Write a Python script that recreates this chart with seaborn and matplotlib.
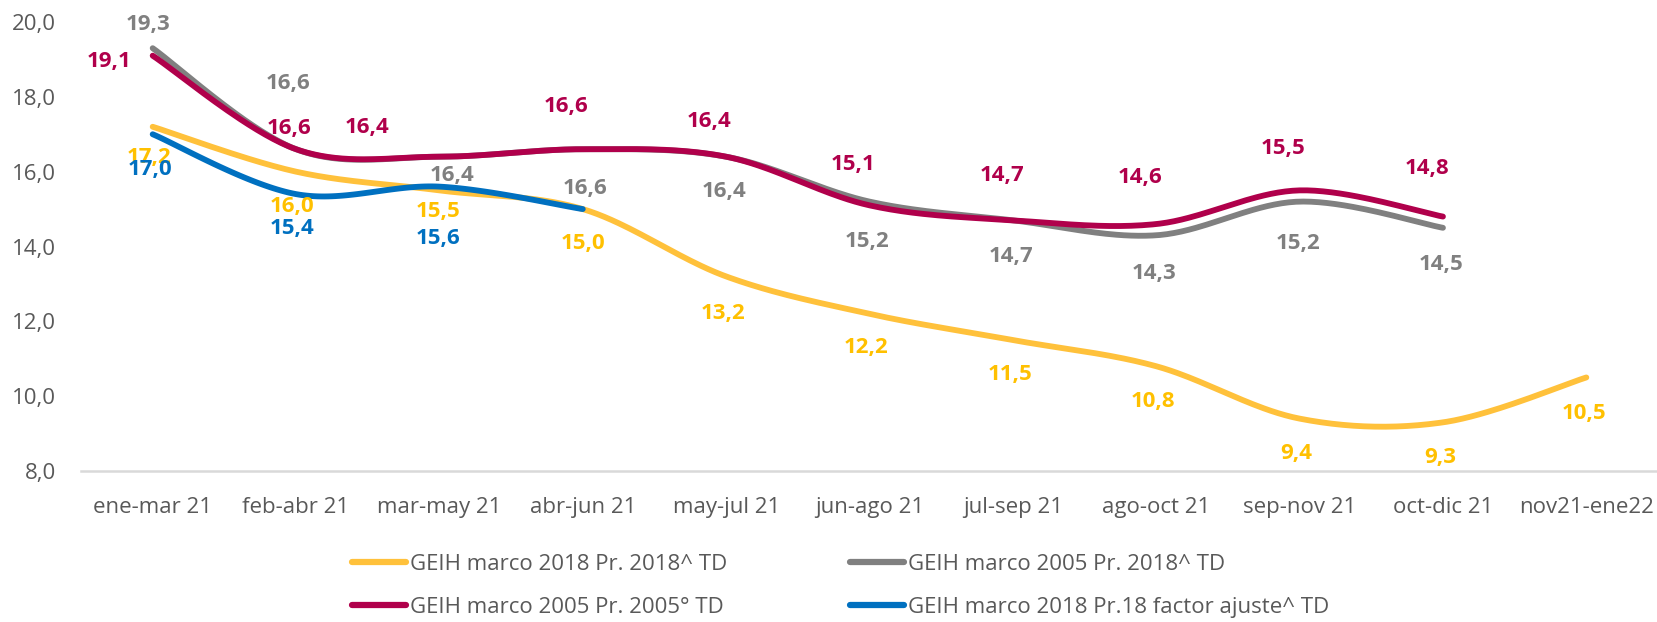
import numpy as np
import pandas as pd
import matplotlib
matplotlib.use("Agg")
import matplotlib.pyplot as plt
import seaborn as sns
from matplotlib.lines import Line2D

# ---------------- data ----------------
categories = ["ene-mar 21", "feb-abr 21", "mar-may 21", "abr-jun 21", "may-jul 21",
              "jun-ago 21", "jul-sep 21", "ago-oct 21", "sep-nov 21", "oct-dic 21",
              "nov21-ene22"]
geih18_pr18 = [17.2, 16.0, 15.5, 15.0, 13.2, 12.2, 11.5, 10.8, 9.4, 9.3, 10.5]
geih05_pr18 = [19.3, 16.6, 16.4, 16.6, 16.4, 15.2, 14.7, 14.3, 15.2, 14.5]
geih05_pr05 = [19.1, 16.6, 16.4, 16.6, 16.4, 15.1, 14.7, 14.6, 15.5, 14.8]
geih18_fact = [17.0, 15.4, 15.6, 15.0]
series_names = ["GEIH marco 2018 Pr. 2018^ TD", "GEIH marco 2005 Pr. 2018^ TD",
                "GEIH marco 2005 Pr. 2005° TD", "GEIH marco 2018 Pr.18 factor ajuste^ TD"]
yticks = [8.0, 10.0, 12.0, 14.0, 16.0, 18.0, 20.0]

# ---------------- style ----------------
line_colors = ["#FFC13B", "#808080", "#B0004B", "#0070C0"]
text_colors = ["#FFC000", "#808080", "#B0004B", "#0070C0"]
# label offsets in pixels (dx, dy up)
offsets = [
    [(-4, -31), (-4, -35), (-1, -21), (0, -34), (-3, -37), (-3, -34), (-3, -34),
     (-3, -35), (-3, -35), (-3, -35), (-2, -36)],
    [(-5, 24), (-8, 66), (13, -19), (2, -39), (-2, -35), (-2, -40), (-2, -36),
     (-2, -38), (-2, -42), (-2, -37)],
    [(-44, -6), (-7, 21), (-72, 29), (-17, 43), (-17, 35), (-16, 41), (-11, 45),
     (-16, 47), (-17, 42), (-16, 48)],
    [(-3, -35), (-4, -34), (-1, -52), (0, 0)],
]

sns.set_theme(style="white")
plt.rcParams["font.family"] = ["Open Sans", "DejaVu Sans"]

fig = plt.figure(figsize=(16.58, 6.22), dpi=100)
ax = fig.add_axes([81 / 1658, 1 - 471 / 622, 1 - 81 / 1658, (471 - 22) / 622])


def smooth(vals, n=40):
    p = np.column_stack([np.arange(len(vals), dtype=float), np.asarray(vals, float)])
    out = []
    for i in range(len(p) - 1):
        p0 = p[i - 1] if i > 0 else p[i]
        p1 = p[i]
        p2 = p[i + 1]
        p3 = p[i + 2] if i + 2 < len(p) else p[i + 1]
        c1 = p1 + (p2 - p0) / 6.0
        c2 = p2 - (p3 - p1) / 6.0
        t = np.linspace(0, 1, n, endpoint=(i == len(p) - 2))[:, None]
        b = ((1 - t) ** 3) * p1 + 3 * ((1 - t) ** 2) * t * c1 + 3 * (1 - t) * t ** 2 * c2 + t ** 3 * p2
        out.append(b)
    return np.vstack(out)


all_series = [geih18_pr18, geih05_pr18, geih05_pr05, geih18_fact]
draw_order = [0, 3, 1, 2]
for k in draw_order:
    vals = all_series[k]
    sm = smooth(vals)
    df = pd.DataFrame({"x": sm[:, 0], "y": sm[:, 1]})
    sns.lineplot(data=df, x="x", y="y", ax=ax, color=line_colors[k], linewidth=4.2,
                 sort=False, estimator=None, solid_capstyle="round",
                 clip_on=False, legend=False)

for k in [0, 1, 2, 3]:
    vals = all_series[k]
    for i, v in enumerate(vals):
        if k == 3 and i == 3:
            continue  # blue 15,0 lies under the yellow 15,0 label in the reference
        dx, dy = offsets[k][i]
        ax.annotate(f"{v:.1f}".replace(".", ","), xy=(i, v), xytext=(dx, dy),
                    textcoords="offset pixels", ha="center", va="center",
                    fontsize=16, fontweight="bold", color=text_colors[k],
                    annotation_clip=False)

ax.set_xlim(-0.5, 10.5)
ax.set_ylim(8, 20)
ax.set_xticks(range(len(categories)))
ax.set_xticklabels(categories)
ax.set_yticks(yticks)
ax.set_yticklabels([f"{t:.1f}".replace(".", ",") for t in yticks])
ax.set_xlabel("")
ax.set_ylabel("")
ax.tick_params(axis="both", length=0, labelsize=16, labelcolor="#595959")
ax.tick_params(axis="y", pad=18)
ax.tick_params(axis="x", pad=19)
for s in ["top", "right", "left"]:
    ax.spines[s].set_visible(False)
ax.spines["bottom"].set_color("#D9D9D9")
ax.spines["bottom"].set_linewidth(1.8)
ax.grid(False)
ax.set_facecolor("none")

handles = [Line2D([0], [0], color=line_colors[k], linewidth=4.5, solid_capstyle="round")
           for k in [0, 2, 1, 3]]
labels = [series_names[k] for k in [0, 2, 1, 3]]
leg = fig.legend(handles, labels, ncol=2, loc="center left",
                 bbox_to_anchor=(352 / 1658, 1 - 586 / 622), frameon=False,
                 fontsize=16, handlelength=2.45, handletextpad=0.18,
                 columnspacing=5.5, labelspacing=1.0, borderpad=0, borderaxespad=0)
for t in leg.get_texts():
    t.set_color("#595959")

fig.savefig("out.png", dpi=100)
